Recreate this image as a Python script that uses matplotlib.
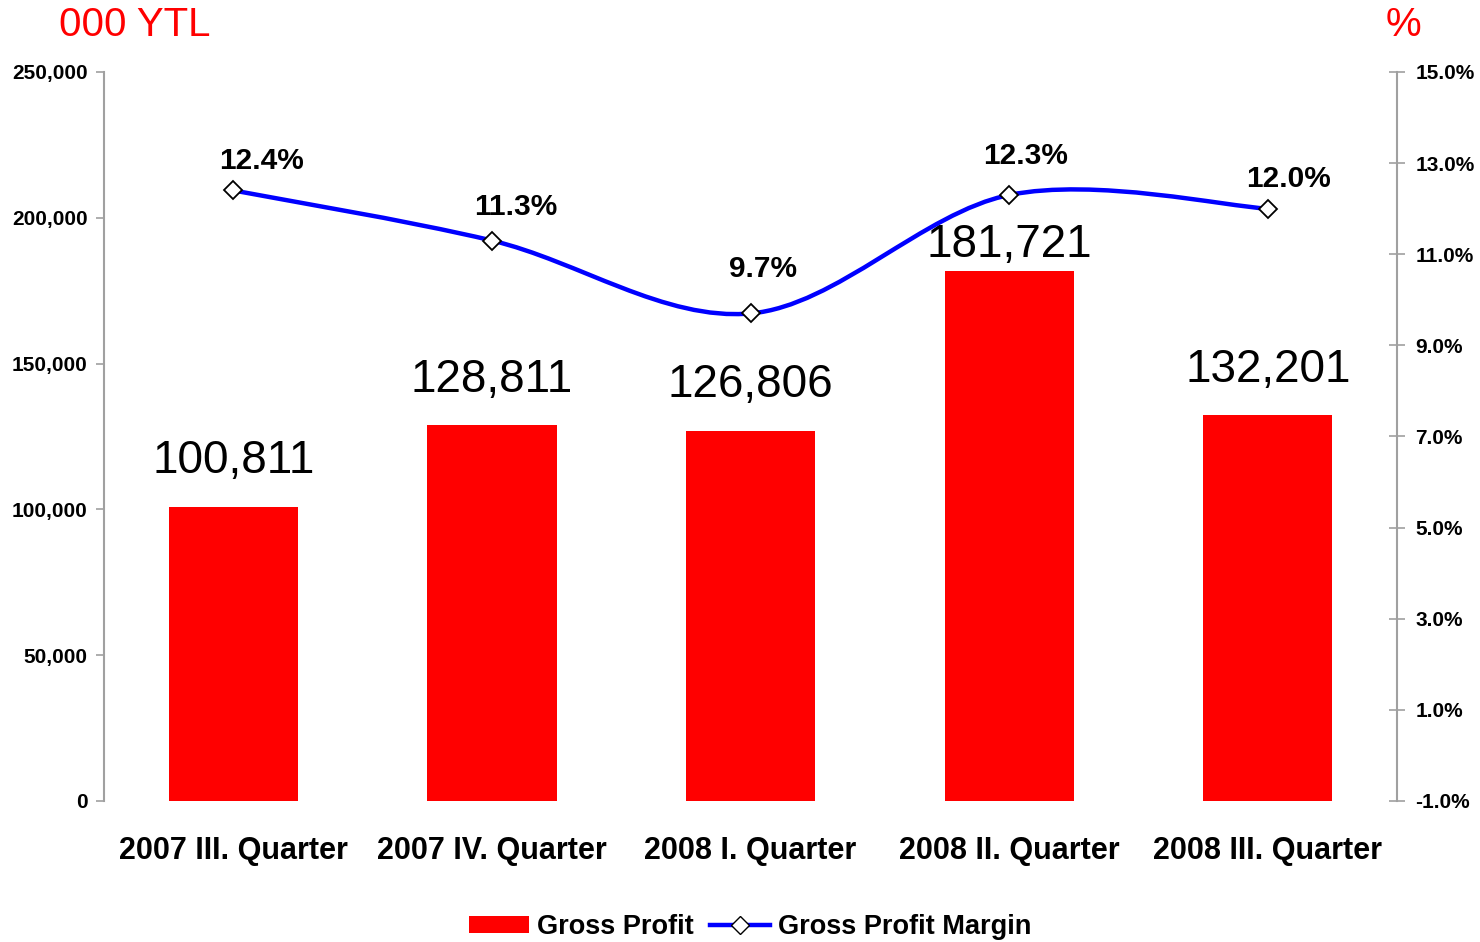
import numpy as np
import matplotlib
matplotlib.use('Agg')
import matplotlib.pyplot as plt
from matplotlib.path import Path
from matplotlib.patches import PathPatch
from matplotlib.lines import Line2D
from matplotlib.patches import Patch

plt.rcParams['font.family'] = ['Liberation Sans', 'DejaVu Sans']

categories = ['2007 III. Quarter', '2007 IV. Quarter', '2008 I. Quarter',
              '2008 II. Quarter', '2008 III. Quarter']
gross_profit = [100811, 128811, 126806, 181721, 132201]
margin = [12.4, 11.3, 9.7, 12.3, 12.0]

# label placement (points), as Excel nudged them
bar_label_dy = [33, 33, 33, 19, 33]
pct_label_dx = [20, 17, 9, 12, 15]
pct_label_dy = [21, 24, 32, 28, 21]

red = '#ff0000'
blue = '#0000ff'
grey = '#a0a0a0'

fig = plt.figure(figsize=(14.8, 9.42), dpi=100)
ax = fig.add_axes([0.0703, 0.1497, 0.8737, 0.7739])
ax2 = ax.twinx()

x = np.arange(len(categories))
ax.bar(x, gross_profit, width=0.5, color=red, zorder=2)
for xi, v, dy in zip(x, gross_profit, bar_label_dy):
    ax.annotate(f'{v:,}', (xi, v), xytext=(0, dy), textcoords='offset points',
                ha='center', va='center', fontsize=33)

ax.set_xlim(-0.5, len(categories) - 0.5)
ax.set_ylim(0, 250000)
ax.set_yticks(range(0, 250001, 50000))
ax.set_yticklabels([f'{t:,}' for t in range(0, 250001, 50000)],
                   fontsize=15, fontweight='bold')
ax.set_xticks(x)
ax.set_xticklabels(categories, fontsize=22, fontweight='bold')
ax.tick_params(axis='x', length=0, pad=25)
ax.tick_params(axis='y', length=6, width=1.2, color=grey, pad=6)

ax2.set_ylim(-1, 15)
pct_ticks = np.arange(-1, 16, 2)
ax2.set_yticks(pct_ticks)
ax2.set_yticklabels([f'{t:.1f}%' for t in pct_ticks], fontsize=15, fontweight='bold')
ax2.tick_params(axis='y', direction='inout', length=12, width=1.2, color=grey, pad=7)

for a in (ax, ax2):
    for s in ('top', 'bottom'):
        a.spines[s].set_visible(False)
ax.spines['right'].set_visible(False)
ax2.spines['left'].set_visible(False)
ax.spines['left'].set_color(grey)
ax.spines['left'].set_linewidth(1.5)
ax2.spines['right'].set_color(grey)
ax2.spines['right'].set_linewidth(1.5)

# smoothed line through the margin points (cubic Bezier segments)
pts = np.column_stack([x, margin]).astype(float)
verts = [tuple(pts[0])]
codes = [Path.MOVETO]
n = len(pts)
for i in range(n - 1):
    p0 = pts[max(i - 1, 0)]
    p1 = pts[i]
    p2 = pts[i + 1]
    p3 = pts[min(i + 2, n - 1)]
    c1 = p1 + (p2 - p0) / 6
    c2 = p2 - (p3 - p1) / 6
    verts += [tuple(c1), tuple(c2), tuple(p2)]
    codes += [Path.CURVE4] * 3
ax2.add_patch(PathPatch(Path(verts, codes), facecolor='none', edgecolor=blue,
                        lw=3.2, zorder=3, capstyle='round', joinstyle='round'))
ax2.plot(x, margin, linestyle='none', marker='D', markersize=9,
         markerfacecolor='white', markeredgecolor='black', markeredgewidth=1.3, zorder=4)
for xi, m, dx, dy in zip(x, margin, pct_label_dx, pct_label_dy):
    ax2.annotate(f'{m:.1f}%', (xi, m), xytext=(dx, dy), textcoords='offset points',
                 ha='center', va='center', fontsize=21.5, fontweight='bold')

fig.text(0.040, 0.973, '000 YTL', color=red, fontsize=29, ha='left', va='center')
fig.text(0.948, 0.973, '%', color=red, fontsize=29, ha='center', va='center')

handles = [Patch(facecolor=red, edgecolor='none'),
           Line2D([], [], color=blue, lw=3.2, marker='D', markersize=9,
                  markerfacecolor='white', markeredgecolor='black')]
fig.legend(handles, ['Gross Profit', 'Gross Profit Margin'], loc='center',
           bbox_to_anchor=(0.507, 0.016), ncol=2, frameon=False,
           prop={'size': 19.5, 'weight': 'bold'}, handlelength=2.2,
           handletextpad=0.3, columnspacing=0.6, handleheight=0.6)

fig.savefig('out.png', dpi=100)
